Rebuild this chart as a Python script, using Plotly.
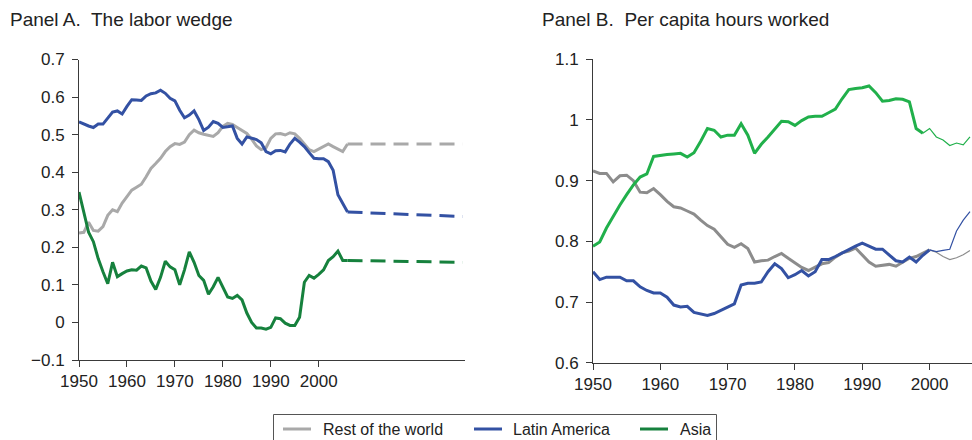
import plotly.graph_objects as go

# ---- Panel A: the labor wedge (annual, 1950-2006) ----
years_a = list(range(1950, 2007))

wedge_rest = [0.238, 0.240, 0.267, 0.245, 0.243, 0.255, 0.285, 0.300, 0.295, 0.318,
              0.335, 0.352, 0.360, 0.368, 0.388, 0.410, 0.423, 0.437, 0.455, 0.468,
              0.476, 0.474, 0.480, 0.500, 0.512, 0.505, 0.501, 0.497, 0.495, 0.505,
              0.522, 0.530, 0.527, 0.519, 0.511, 0.503, 0.488, 0.470, 0.460, 0.465,
              0.490, 0.502, 0.503, 0.499, 0.505, 0.502, 0.490, 0.476, 0.460, 0.455,
              0.462, 0.469, 0.475, 0.468, 0.461, 0.455, 0.475]

wedge_latam = [0.534, 0.528, 0.523, 0.519, 0.528, 0.528, 0.545, 0.560, 0.563, 0.555,
               0.575, 0.593, 0.592, 0.591, 0.603, 0.609, 0.611, 0.618, 0.610, 0.597,
               0.590, 0.565, 0.545, 0.552, 0.563, 0.540, 0.511, 0.520, 0.535, 0.530,
               0.519, 0.521, 0.523, 0.490, 0.475, 0.494, 0.490, 0.487, 0.478, 0.455,
               0.449, 0.457, 0.458, 0.454, 0.475, 0.490, 0.480, 0.468, 0.452, 0.437,
               0.436, 0.436, 0.428, 0.405, 0.340, 0.315, 0.294]

wedge_asia = [0.347, 0.290, 0.240, 0.215, 0.170, 0.135, 0.103, 0.160, 0.122, 0.130,
              0.137, 0.140, 0.139, 0.150, 0.145, 0.110, 0.088, 0.120, 0.163, 0.148,
              0.140, 0.100, 0.140, 0.188, 0.160, 0.125, 0.112, 0.075, 0.095, 0.120,
              0.095, 0.068, 0.064, 0.072, 0.060, 0.025, 0.000, -0.015, -0.015, -0.018,
              -0.013, 0.012, 0.010, -0.002, -0.008, -0.008, 0.014, 0.107, 0.125, 0.118,
              0.128, 0.140, 0.165, 0.175, 0.190, 0.165, 0.165]

# Projection path for the wedge (dashed)
years_proj = [2006, 2030]
proj_rest = [0.475, 0.475]
proj_latam = [0.294, 0.282]
proj_asia = [0.165, 0.160]

# ---- Panel B: per capita hours worked ----
years_b = list(range(1950, 2001))
hours_rest = [0.916, 0.912, 0.912, 0.898, 0.908, 0.909, 0.900, 0.881, 0.880, 0.887,
              0.877, 0.866, 0.857, 0.855, 0.850, 0.845, 0.835, 0.826, 0.820, 0.808,
              0.795, 0.790, 0.796, 0.788, 0.766, 0.768, 0.769, 0.775, 0.780, 0.772,
              0.764, 0.757, 0.752, 0.758, 0.763, 0.765, 0.774, 0.781, 0.784, 0.789,
              0.778, 0.766, 0.759, 0.760, 0.762, 0.759, 0.765, 0.772, 0.775, 0.781,
              0.786]
hours_latam = [0.750, 0.737, 0.741, 0.741, 0.741, 0.735, 0.735, 0.725, 0.719, 0.715,
               0.715, 0.708, 0.695, 0.692, 0.693, 0.683, 0.680, 0.678, 0.681, 0.686,
               0.692, 0.697, 0.728, 0.731, 0.731, 0.733, 0.750, 0.763, 0.755, 0.740,
               0.745, 0.752, 0.743, 0.750, 0.770, 0.770, 0.775, 0.781, 0.786, 0.792,
               0.797, 0.792, 0.787, 0.787, 0.778, 0.768, 0.766, 0.774, 0.766, 0.777,
               0.786]
years_b_asia = list(range(1950, 2000))
hours_asia = [0.792, 0.799, 0.822, 0.842, 0.860, 0.877, 0.893, 0.906, 0.911, 0.940,
              0.942, 0.943, 0.944, 0.945, 0.939, 0.946, 0.965, 0.986, 0.983, 0.972,
              0.975, 0.975, 0.994, 0.975, 0.945, 0.960, 0.972, 0.985, 0.998, 0.997,
              0.991, 0.999, 1.005, 1.006, 1.006, 1.012, 1.018, 1.035, 1.050, 1.052,
              1.053, 1.056, 1.045, 1.031, 1.032, 1.035, 1.034, 1.030, 0.986, 0.978]

# Later years, drawn with a thin line
years_b_late = list(range(2000, 2007))
hours_rest_late = [0.786, 0.782, 0.775, 0.770, 0.773, 0.778, 0.785]
hours_latam_late = [0.786, 0.783, 0.785, 0.787, 0.817, 0.835, 0.849]
years_b_asia_late = list(range(1999, 2007))
hours_asia_late = [0.978, 0.986, 0.972, 0.967, 0.958, 0.962, 0.959, 0.972]

legend_names = ["Rest of the world", "Latin America", "Asia"]
x_ticks = [1950, 1960, 1970, 1980, 1990, 2000]
y_ticks_a = [-0.1, 0, 0.1, 0.2, 0.3, 0.4, 0.5, 0.6, 0.7]
y_ticks_b = [0.6, 0.7, 0.8, 0.9, 1.0, 1.1]

GRAY_A = "#a9a9a9"
GRAY_B = "#8c8c8c"
BLUE = "#3351a3"
GREEN_A = "#16813d"
GREEN_B = "#21b04b"
AXIS = "#3a3a3a"
TEXT = "#222222"
FONT = "Liberation Sans, Arial, sans-serif"

W, H = 972, 440


def px(x):
    return x / W


def py(y):
    return 1 - y / H


fig = go.Figure()

# Panel A solid series
for ys, col in [(wedge_rest, GRAY_A), (wedge_latam, BLUE), (wedge_asia, GREEN_A)]:
    fig.add_trace(go.Scatter(x=years_a, y=ys, mode="lines", xaxis="x", yaxis="y",
                             line=dict(color=col, width=3), showlegend=False))
# Panel A dashed projections
for ys, col in [(proj_rest, GRAY_A), (proj_latam, BLUE), (proj_asia, GREEN_A)]:
    fig.add_trace(go.Scatter(x=years_proj, y=ys, mode="lines", xaxis="x", yaxis="y",
                             line=dict(color=col, width=3, dash="15px,8px"),
                             showlegend=False))

# Panel B thick series
for xs, ys, col in [(years_b, hours_rest, GRAY_B), (years_b, hours_latam, BLUE),
                    (years_b_asia, hours_asia, GREEN_B)]:
    fig.add_trace(go.Scatter(x=xs, y=ys, mode="lines", xaxis="x2", yaxis="y2",
                             line=dict(color=col, width=3), showlegend=False))
# Panel B thin continuation
for xs, ys, col in [(years_b_late, hours_rest_late, GRAY_B),
                    (years_b_late, hours_latam_late, BLUE),
                    (years_b_asia_late, hours_asia_late, GREEN_B)]:
    fig.add_trace(go.Scatter(x=xs, y=ys, mode="lines", xaxis="x2", yaxis="y2",
                             line=dict(color=col, width=1.2), showlegend=False))

axis_common = dict(showline=True, linecolor=AXIS, linewidth=1, ticks="outside",
                   ticklen=6, tickcolor=AXIS, tickwidth=1, showgrid=False,
                   zeroline=False, tickfont=dict(family=FONT, size=17, color=TEXT),
                   automargin=False)

fig.update_layout(
    width=W, height=H,
    margin=dict(l=0, r=0, t=0, b=0),
    paper_bgcolor="white", plot_bgcolor="white",
    font=dict(family=FONT, color=TEXT),
    xaxis=dict(domain=[px(79), px(465)], range=[1950, 2030.5], anchor="y",
               tickvals=x_ticks, **axis_common),
    yaxis=dict(domain=[py(360), py(59.5)], range=[-0.1, 0.7], anchor="x",
               tickvals=y_ticks_a, ticklabelstandoff=4, **axis_common),
    xaxis2=dict(domain=[px(593), 1.0], range=[1950, 2006.3], anchor="y2",
                tickvals=x_ticks, **axis_common),
    yaxis2=dict(domain=[py(362.7), py(59.3)], range=[0.6, 1.1], anchor="x2",
                tickvals=y_ticks_b, ticklabelstandoff=4, **axis_common),
    showlegend=False,
)

# Panel titles
fig.add_annotation(x=px(8), y=py(19), xref="paper", yref="paper", xanchor="left",
                   yanchor="middle", showarrow=False, text="Panel A.  The labor wedge",
                   font=dict(family=FONT, size=19, color=TEXT))
fig.add_annotation(x=px(540), y=py(19), xref="paper", yref="paper", xanchor="left",
                   yanchor="middle", showarrow=False,
                   text="Panel B.  Per capita hours worked",
                   font=dict(family=FONT, size=19, color=TEXT))

# Shared legend box along the bottom
fig.add_shape(type="rect", xref="paper", yref="paper", x0=px(273.5), x1=px(716.5),
              y0=py(414.5), y1=py(460), line=dict(color="#555555", width=1),
              fillcolor="rgba(0,0,0,0)")
legend_items = [(legend_names[0], GRAY_A, 283, 320.5),
                (legend_names[1], BLUE, 474, 510.5),
                (legend_names[2], GREEN_A, 640, 678)]
for name, col, lx, tx in legend_items:
    fig.add_shape(type="line", xref="paper", yref="paper", x0=px(lx), x1=px(lx + 28),
                  y0=py(429), y1=py(429), line=dict(color=col, width=3))
    fig.add_annotation(x=px(tx), y=py(429), xref="paper", yref="paper",
                       xanchor="left", yanchor="middle", showarrow=False, text=name,
                       font=dict(family=FONT, size=16, color=TEXT))

fig.write_html("out.html")
